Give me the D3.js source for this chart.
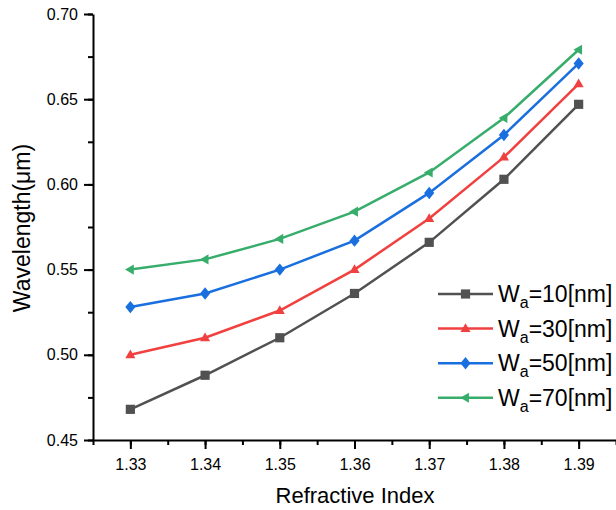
<!DOCTYPE html>
<html lang="en">
<head>
<meta charset="utf-8">
<title>Wavelength vs refractive index</title>
<script src="https://d3js.org/d3.v7.min.js"></script>
<style>
  body { margin: 0; background: #fff; }
  svg text { font-family: "Liberation Sans", Arial, sans-serif; fill: #000; }
  .axis path, .axis line { stroke: #000; stroke-width: 2; }
</style>
</head>
<body>
<script>
// data
const refIndex = [1.33, 1.34, 1.35, 1.36, 1.37, 1.38, 1.39];
const wa10 = [0.468, 0.488, 0.510, 0.536, 0.566, 0.603, 0.647];
const wa30 = [0.500, 0.510, 0.526, 0.550, 0.580, 0.616, 0.659];
const wa50 = [0.528, 0.536, 0.550, 0.567, 0.595, 0.629, 0.671];
const wa70 = [0.550, 0.556, 0.568, 0.584, 0.607, 0.639, 0.679];
const seriesNames = ["10", "30", "50", "70"];
const xTicks = [1.33, 1.34, 1.35, 1.36, 1.37, 1.38, 1.39];
const yTicks = [0.45, 0.50, 0.55, 0.60, 0.65, 0.70];

const colors = ["#515151", "#F14040", "#1A6FDF", "#37AD6B"];
const symbols = ["square", "up", "diamond", "left"];

const w = 616, h = 510;
const mLeft = 93, mRight = 616, mTop = 14, mBottom = 440;

const svg = d3.select("body").append("svg")
  .attr("width", w).attr("height", h);

const x = d3.scaleLinear().domain([1.325, 1.395]).range([mLeft, mRight]);
const y = d3.scaleLinear().domain([0.45, 0.70]).range([mBottom, mTop]);

// minor ticks first
const xMinor = d3.range(1.325, 1.3951, 0.005);
const yMinor = d3.range(0.45, 0.7001, 0.025);

svg.append("g").attr("class", "axis")
  .attr("transform", "translate(0," + mBottom + ")")
  .call(d3.axisBottom(x).tickValues(xMinor).tickSize(5).tickFormat(""))
  .call(g => g.select(".domain").remove());
svg.append("g").attr("class", "axis")
  .attr("transform", "translate(" + mLeft + ",0)")
  .call(d3.axisLeft(y).tickValues(yMinor).tickSize(5).tickFormat(""))
  .call(g => g.select(".domain").remove());

const xAxis = svg.append("g").attr("class", "axis")
  .attr("transform", "translate(0," + mBottom + ")")
  .call(d3.axisBottom(x).tickValues(xTicks).tickSize(9).tickSizeOuter(0).tickPadding(10)
    .tickFormat(d3.format(".2f")));
xAxis.selectAll("text").style("font-size", "16px");

const yAxis = svg.append("g").attr("class", "axis")
  .attr("transform", "translate(" + mLeft + ",0)")
  .call(d3.axisLeft(y).tickValues(yTicks).tickSize(9).tickSizeOuter(0).tickPadding(6)
    .tickFormat(d3.format(".2f")));
yAxis.selectAll("text").style("font-size", "16px");

svg.append("text")
  .attr("x", 355).attr("y", 503)
  .attr("text-anchor", "middle")
  .style("font-size", "22px")
  .text("Refractive Index");

svg.append("text")
  .attr("transform", "translate(30," + 228 + ") rotate(-90)")
  .attr("text-anchor", "middle")
  .style("font-size", "23px")
  .text("Wavelength(μm)");

function marker(sel, kind, size) {
  const s = size;
  let p;
  if (kind === "square") p = `M${-s},${-s}H${s}V${s}H${-s}Z`;
  else if (kind === "up") p = `M0,${-s * 1.15}L${s * 1.1},${s * 0.75}L${-s * 1.1},${s * 0.75}Z`;
  else if (kind === "diamond") p = `M0,${-s * 1.35}L${s * 1.1},0L0,${s * 1.35}L${-s * 1.1},0Z`;
  else p = `M${-s * 1.15},0L${s * 0.75},${-s * 1.1}L${s * 0.75},${s * 1.1}Z`;
  sel.attr("d", p);
}

const allSeries = [wa10, wa30, wa50, wa70];
const line = d3.line().x((d, i) => x(refIndex[i])).y(d => y(d));

allSeries.forEach((vals, k) => {
  svg.append("path")
    .datum(vals)
    .attr("fill", "none")
    .attr("stroke", colors[k])
    .attr("stroke-width", 2.5)
    .attr("d", line);
  svg.selectAll(".m" + k)
    .data(vals)
    .enter().append("path")
    .attr("class", "m" + k)
    .attr("fill", colors[k])
    .attr("transform", (d, i) => "translate(" + x(refIndex[i]) + "," + y(d) + ")")
    .call(marker, symbols[k], 4.6);
});

// legend
const legend = svg.append("g");
seriesNames.forEach((n, k) => {
  const ly = 294 + k * 34.6;
  legend.append("line")
    .attr("x1", 438).attr("x2", 493).attr("y1", ly).attr("y2", ly)
    .attr("stroke", colors[k]).attr("stroke-width", 2.5);
  legend.append("path")
    .attr("fill", colors[k])
    .attr("transform", "translate(465.5," + ly + ")")
    .call(marker, symbols[k], 4.6);
  const t = legend.append("text")
    .attr("x", 498).attr("y", ly + 8)
    .style("font-size", "23px");
  t.append("tspan").text("W");
  t.append("tspan").attr("dy", 6).style("font-size", "16px").text("a");
  t.append("tspan").attr("dy", -6).text("=" + n + "[nm]");
});
</script>
</body>
</html>
